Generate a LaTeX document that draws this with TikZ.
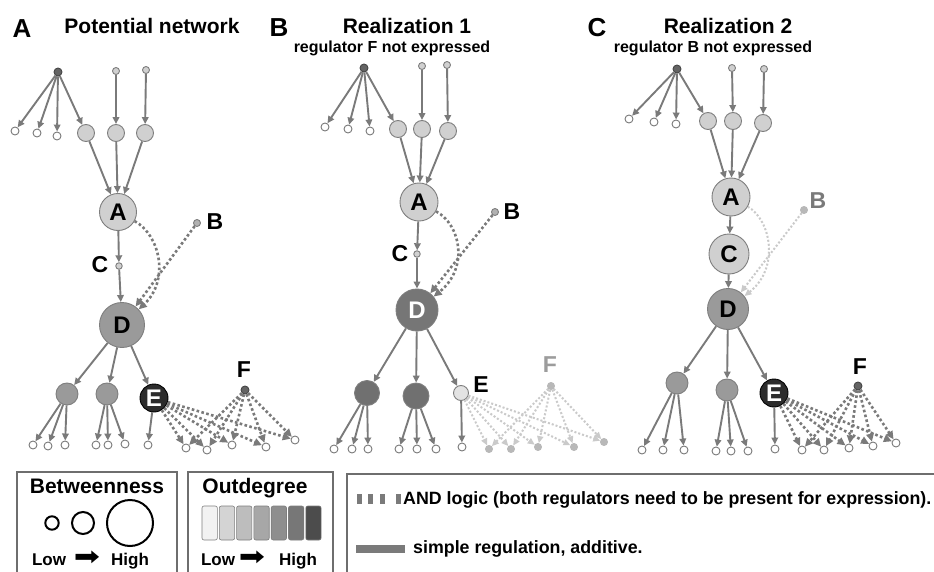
\documentclass[tikz,border=0pt]{standalone}
\usepackage{fontspec}
\setmainfont{Liberation Sans}
\newfontfamily\djv{DejaVu Sans}
\usetikzlibrary{arrows.meta}
\definecolor{ec}{HTML}{7A7A7A}
\definecolor{fc}{HTML}{CACACA}
\definecolor{nb}{HTML}{7E7E7E}
\definecolor{n1}{HTML}{D0D0D0}
\definecolor{n2}{HTML}{9A9A9A}
\definecolor{n3}{HTML}{767676}
\definecolor{n4}{HTML}{2C2C2C}
\definecolor{hubc}{HTML}{646464}
\definecolor{fadefill}{HTML}{B8B8B8}
\definecolor{boxc}{HTML}{6E6E6E}
\tikzset{
 nd/.style={circle, inner sep=0pt, draw=nb, line width=0.9pt, font=\fontsize{24}{24}\selectfont\bfseries},
 leaf/.style={nd, minimum size=8pt, fill=white, draw=ec},
 tiny/.style={nd, minimum size=7pt, fill=n1},
 hub/.style={nd, minimum size=8pt, fill=hubc, draw=hubc!70!black},
 midn/.style={nd, minimum size=17pt, fill=n1},
 se/.style={draw=ec, line width=1.9pt, -{Triangle[length=7pt,width=6.5pt]}},
 de/.style={draw=ec, line width=2.6pt, dash pattern=on 2.6pt off 2.4pt, -{Triangle[length=8pt,width=7.5pt]}},
 fde/.style={draw=fc, line width=2pt, dash pattern=on 2pt off 2pt, -{Triangle[length=7pt,width=6pt]}},
 lab/.style={font=\fontsize{23}{23}\selectfont\bfseries, inner sep=0pt},
 ttl/.style={font=\fontsize{21}{21}\selectfont\bfseries, inner sep=0pt, anchor=base},
 sub/.style={font=\fontsize{16}{16}\selectfont\bfseries, inner sep=0pt, anchor=base},
 pl/.style={font=\fontsize{26}{26}\selectfont\bfseries, inner sep=0pt, anchor=base},
 lg/.style={font=\fontsize{21}{21}\selectfont\bfseries, inner sep=0pt, anchor=base},
 lh/.style={font=\fontsize{17}{17}\selectfont\bfseries, inner sep=0pt, anchor=base},
 la/.style={font=\djv\fontsize{26}{26}\selectfont, inner sep=0pt, xscale=1.2},
 lt/.style={font=\fontsize{17.8}{17.8}\selectfont\bfseries, inner sep=0pt, anchor=base west},
 lbox/.style={draw=boxc, line width=1.3pt},
}
\begin{document}
\begin{tikzpicture}[x=1pt,y=-1pt]
\useasboundingbox[fill=white] (0,0) rectangle (934,572);
% ---------------- titles
\node[pl] (pA) at (22,38) {A};
\node[ttl] (tA) at (152,34) {Potential network};
\node[pl] (pB) at (279,37) {B};
\node[ttl] (tB) at (407,34) {Realization 1};
\node[sub] (sB) at (392,53) {regulator F not expressed};
\node[pl] (pC) at (597,37) {C};
\node[ttl] (tC) at (728,34) {Realization 2};
\node[sub] (sC) at (713,53) {regulator B not expressed};

% ================= Panel A
\node[hub] (ha) at (58,72) {};
\node[tiny] (ta1) at (116,71) {};
\node[tiny] (ta2) at (146,70) {};
\node[leaf] (la1) at (15,131) {};
\node[leaf] (la2) at (37,133) {};
\node[leaf] (la3) at (57,136) {};
\node[midn] (ma1) at (86,133) {};
\node[midn] (ma2) at (116,133) {};
\node[midn] (ma3) at (145,133) {};
\node[nd, minimum size=37pt, fill=n1] (Aa) at (118,212) {A};
\node[tiny, fill=n1!85!black] (Ba) at (197,223) {};
\node[lab] (Bla) at (215,222) {B};
\node[tiny, minimum size=6.5pt] (Ca) at (119,266) {};
\node[lab] (Cla) at (100,265) {C};
\node[nd, minimum size=45pt, fill=n2] (Da) at (122,325) {D};
\node[nd, minimum size=22pt, fill=n2] (La1) at (67,394) {};
\node[nd, minimum size=22pt, fill=n2] (La2) at (107,394) {};
\node[nd, minimum size=28pt, fill=n4, draw=black, text=white] (Ea) at (154,398) {E};
\node[hub] (Fa) at (245,390) {};
\node[lab] (Fla) at (244,370) {F};
\foreach \n/\x/\y in {1/33/445,2/48/446,3/65/445,4/96/445,5/108/445,6/125/444,7/148/445}
  \node[leaf] (qa\n) at (\x,\y) {};
\foreach \n/\x/\y in {1/186/448,2/207/450,3/232/445,4/266/447,5/295/440}
  \node[leaf] (ra\n) at (\x,\y) {};
\foreach \t in {la1,la2,la3,ma1} \draw[se] (ha) -- (\t);
\draw[se] (ta1) -- (ma2);
\draw[se] (ta2) -- (ma3);
\foreach \s in {ma1,ma2,ma3} \draw[se] (\s) -- (Aa);
\draw[se] (Aa) -- (Ca);
\draw[se] (Ca) -- (Da);
\draw[de] (Aa) .. controls (160,235) and (170,280) .. (Da);
\draw[de] (Ba) -- (Da);
\draw[se] (Da) -- (La1);
\draw[se] (Da) -- (La2);
\draw[se] (Da) -- (Ea);
\foreach \t in {qa1,qa2,qa3} \draw[se] (La1) -- (\t);
\foreach \t in {qa4,qa5,qa6} \draw[se] (La2) -- (\t);
\draw[se] (Ea) -- (qa7);
\foreach \t in {ra1,ra2,ra3,ra4,ra5} {\draw[de] (Ea) -- (\t); \draw[de] (Fa) -- (\t);}

% ================= Panel B
\node[hub] (hb) at (364,68) {};
\node[tiny] (tb1) at (422,66) {};
\node[tiny] (tb2) at (447,65) {};
\node[leaf] (lb1) at (325,127) {};
\node[leaf] (lb2) at (348,129) {};
\node[leaf] (lb3) at (370,131) {};
\node[midn] (mb1) at (398,129) {};
\node[midn] (mb2) at (422,129) {};
\node[midn] (mb3) at (448,131) {};
\node[nd, minimum size=38pt, fill=n1] (Ab) at (419,202) {A};
\node[tiny, fill=n1!85!black] (Bb) at (495,212) {};
\node[lab] (Blb) at (512,212) {B};
\node[tiny, minimum size=6.5pt] (Cb) at (417,254) {};
\node[lab] (Clb) at (400,254) {C};
\node[nd, minimum size=42pt, fill=n3, text=white] (Db) at (417,310) {D};
\node[nd, minimum size=25pt, fill=n3!95!black] (Lb1) at (367,393) {};
\node[nd, minimum size=26pt, fill=n3!95!black] (Lb2) at (416,396) {};
\node[nd, minimum size=15pt, fill=n1!60!white] (Eb) at (461,393) {};
\node[lab] (Elb) at (481,385) {E};
\node[nd, minimum size=7pt, fill=fadefill, draw=fadefill] (Fb) at (551,386) {};
\node[lab, text=fadefill!85!black] (Flb) at (550,365) {F};
\foreach \n/\x/\y in {1/334/449,2/352/449,3/368/449,4/399/449,5/417/449,6/436/449,7/462/447}
  \node[leaf] (qb\n) at (\x,\y) {};
\foreach \n/\x/\y in {1/489/449,2/511/449,3/538/447,4/574/447,5/604/442}
  \node[nd, minimum size=7pt, fill=fadefill, draw=fadefill] (rb\n) at (\x,\y) {};
\foreach \t in {lb1,lb2,lb3,mb1} \draw[se] (hb) -- (\t);
\draw[se] (tb1) -- (mb2);
\draw[se] (tb2) -- (mb3);
\foreach \s in {mb1,mb2,mb3} \draw[se] (\s) -- (Ab);
\draw[se] (Ab) -- (Cb);
\draw[se] (Cb) -- (Db);
\draw[de] (Ab) .. controls (461,225) and (469,268) .. (Db);
\draw[de] (Bb) -- (Db);
\draw[se] (Db) -- (Lb1);
\draw[se] (Db) -- (Lb2);
\draw[se] (Db) -- (Eb);
\foreach \t in {qb1,qb2,qb3} \draw[se] (Lb1) -- (\t);
\foreach \t in {qb4,qb5,qb6} \draw[se] (Lb2) -- (\t);
\draw[se] (Eb) -- (qb7);
\foreach \t in {rb1,rb2,rb3,rb4,rb5} {\draw[fde] (Eb) -- (\t); \draw[fde] (Fb) -- (\t);}

% ================= Panel C
\node[hub] (hc) at (677,69) {};
\node[tiny] (tc1) at (732,68) {};
\node[tiny] (tc2) at (764,69) {};
\node[leaf] (lc1) at (629,119) {};
\node[leaf] (lc2) at (654,122) {};
\node[leaf] (lc3) at (676,124) {};
\node[midn] (mc1) at (708,121) {};
\node[midn] (mc2) at (733,121) {};
\node[midn] (mc3) at (763,123) {};
\node[nd, minimum size=38pt, fill=n1] (Ac) at (731,197) {A};
\node[nd, minimum size=7pt, fill=fadefill, draw=fadefill] (Bc) at (804,210) {};
\node[lab, text=ec] (Blc) at (818,201) {B};
\node[nd, minimum size=40pt, fill=n1] (Cc) at (729,254) {C};
\node[nd, minimum size=41pt, fill=n2] (Dc) at (728,309) {D};
\node[nd, minimum size=22pt, fill=n2] (Lc1) at (677,383) {};
\node[nd, minimum size=22pt, fill=n2] (Lc2) at (727,390) {};
\node[nd, minimum size=28pt, fill=n4, draw=black, text=white] (Ec) at (774,393) {E};
\node[hub] (Fc) at (858,386) {};
\node[lab] (Flc) at (860,367) {F};
\foreach \n/\x/\y in {1/642/450,2/663/450,3/684/450,4/716/451,5/731/451,6/748/451,7/775/449}
  \node[leaf] (qc\n) at (\x,\y) {};
\foreach \n/\x/\y in {1/802/450,2/824/450,3/849/448,4/873/446,5/896/443}
  \node[leaf] (rc\n) at (\x,\y) {};
\foreach \t in {lc1,lc2,lc3,mc1} \draw[se] (hc) -- (\t);
\draw[se] (tc1) -- (mc2);
\draw[se] (tc2) -- (mc3);
\foreach \s in {mc1,mc2,mc3} \draw[se] (\s) -- (Ac);
\draw[se] (Ac) -- (Cc);
\draw[se] (Cc) -- (Dc);
\draw[fde] (Ac) .. controls (771,220) and (780,268) .. (Dc);
\draw[fde] (Bc) -- (Dc);
\draw[se] (Dc) -- (Lc1);
\draw[se] (Dc) -- (Lc2);
\draw[se] (Dc) -- (Ec);
\foreach \t in {qc1,qc2,qc3} \draw[se] (Lc1) -- (\t);
\foreach \t in {qc4,qc5,qc6} \draw[se] (Lc2) -- (\t);
\draw[se] (Ec) -- (qc7);
\foreach \t in {rc1,rc2,rc3,rc4,rc5} {\draw[de] (Ec) -- (\t); \draw[de] (Fc) -- (\t);}

% ================= Legends
\draw[lbox] (17,572) -- (17,472) -- (177,472) -- (177,572);
\node[lg] (btw) at (97,493) {Betweenness};
\draw[line width=2pt] (52,523) circle (6.7);
\draw[line width=2pt] (83,523) circle (11);
\draw[line width=2pt] (130,523) circle (23);
\node[lh] (low1) at (49,565) {Low};
\node[la] (arr1) at (87,558) {➡};
\node[lh] (high1) at (130,565) {High};

\draw[lbox] (188,572) -- (188,472) -- (333,472) -- (333,572);
\node[lg] (outd) at (255,493) {Outdegree};
\foreach \i/\c in {0/F2F2F2,1/D4D4D4,2/BDBDBD,3/A7A7A7,4/8E8E8E,5/777777,6/4C4C4C} {
  \definecolor{barc}{HTML}{\c}
  \draw[draw=nb, line width=0.6pt, fill=barc, rounded corners=2pt] (202+\i*17.3,506) rectangle ++(15.3,34);
}
\node[lh] (low2) at (218,565) {Low};
\node[la] (arr2) at (252,558) {➡};
\node[lh] (high2) at (298,565) {High};

\draw[lbox] (347,572) -- (347,474) -- (934,474);
\foreach \x in {357,368,380,396}
  \fill[ec] (\x,494) rectangle ++(5,10);
\node[lt] (andt) at (403,504) {AND logic (both regulators need to be present for expression).};
\fill[ec] (356,545) rectangle (405,553);
\node[lt] (simt) at (413,553.5) {simple regulation, additive.};
\end{tikzpicture}
\end{document}
